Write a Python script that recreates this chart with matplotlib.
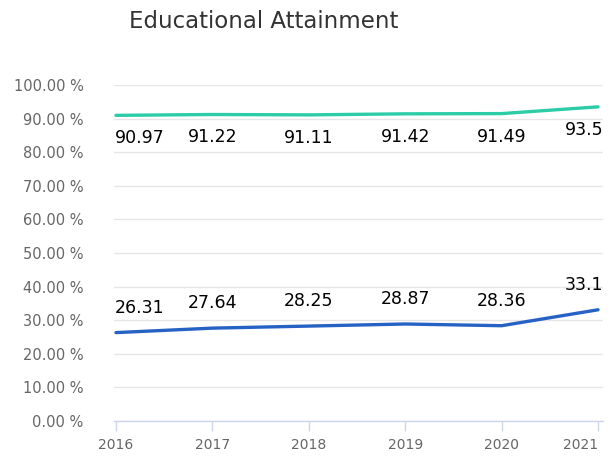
import matplotlib
matplotlib.use("Agg")
import matplotlib.pyplot as plt

years = [2016, 2017, 2018, 2019, 2020, 2021]
hs_values = [90.97, 91.22, 91.11, 91.42, 91.49, 93.5]
ba_values = [26.31, 27.64, 28.25, 28.87, 28.36, 33.1]
yticks = [0, 10, 20, 30, 40, 50, 60, 70, 80, 90, 100]

W, H = 611, 459
fig = plt.figure(figsize=(W / 100, H / 100), dpi=100)
ax = fig.add_axes([114 / W, (H - 421) / H, 489 / W, 336 / H])

px = 5 / 482
ax.set_xlim(2016 - 2 * px, 2021 + 5 * px)
ax.set_ylim(0, 100)

green = "#2ccda6"
blue = "#2662c4"
ax.plot(years, hs_values, color=green, lw=2.4, solid_capstyle="round", zorder=3, clip_on=False)
ax.plot(years, ba_values, color=blue, lw=2.4, solid_capstyle="round", zorder=3, clip_on=False)

LFS = 12.5


def label(i, x, v, dy):
    n = len(years)
    if i == 0:
        ax.annotate(f"{v:g}", (0.002, v), xycoords=("axes fraction", "data"),
                    xytext=(0, dy), textcoords="offset points",
                    ha="left", va="center", fontsize=LFS, color="black")
    elif i == n - 1:
        ax.annotate(f"{v:g}", (1.0, v), xycoords=("axes fraction", "data"),
                    xytext=(0, dy), textcoords="offset points",
                    ha="right", va="center", fontsize=LFS, color="black")
    else:
        ax.annotate(f"{v:g}", (x, v), xytext=(0, dy), textcoords="offset points",
                    ha="center", va="center", fontsize=LFS, color="black")


for i, (x, v) in enumerate(zip(years, hs_values)):
    label(i, x, v, -16.5)
for i, (x, v) in enumerate(zip(years, ba_values)):
    label(i, x, v, 18)

ax.set_yticks(yticks)
ax.set_yticklabels([f"{t:.2f} %" for t in yticks])
ax.set_xticks(years)
ax.set_xticklabels([str(y) for y in years])
ax.yaxis.grid(True, color="#e6e6e6", lw=1)
ax.set_axisbelow(True)
for s in ["top", "right", "left"]:
    ax.spines[s].set_visible(False)
ax.spines["bottom"].set_color("#ccd6eb")
ax.spines["bottom"].set_linewidth(1)
ax.tick_params(axis="y", length=0, pad=22, labelsize=10.5, labelcolor="#666666")
ax.tick_params(axis="x", length=7.5, color="#ccd6eb", width=1, pad=5, labelsize=10, labelcolor="#666666")
xt = ax.get_xticklabels()
xt[-1].set_ha("right")

fig.text(264 / W, 1 - 22 / H, "Educational Attainment", ha="center", va="center", fontsize=16.5, color="#333333")

fig.savefig("out.png", dpi=100)
